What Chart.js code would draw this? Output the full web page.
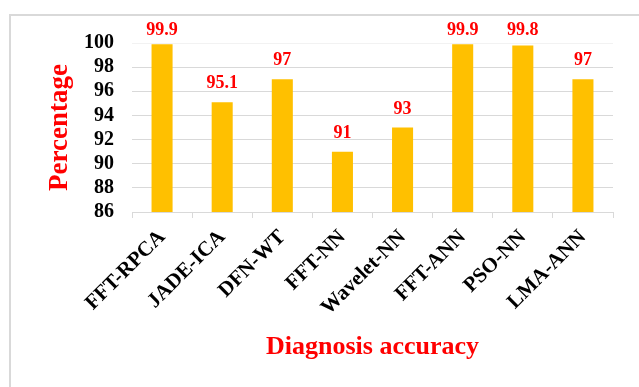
<!DOCTYPE html>
<html>
<head>
<meta charset="utf-8">
<script src="https://cdn.jsdelivr.net/npm/chart.js@4.4.0/dist/chart.umd.min.js"></script>
<style>
  html, body { margin: 0; padding: 0; background: #fff; }
  #wrap { position: relative; width: 639px; height: 387px; overflow: hidden; }
  #frame { position: absolute; left: 9px; top: 14px; width: 800px; height: 600px;
           border-left: 2px solid #d9d9d9; border-top: 2px solid #d9d9d9; }
  #chart { position: absolute; left: 0; top: 0; }
</style>
</head>
<body>
<div id="wrap">
  <div id="frame"></div>
  <canvas id="chart" width="639" height="387"></canvas>
</div>
<script>
// methods and their accuracy
let methods = ["FFT-RPCA", "JADE-ICA", "DFN-WT", "FFT-NN", "Wavelet-NN", "FFT-ANN", "PSO-NN", "LMA-ANN"];
let accuracy = [99.9, 95.1, 97, 91, 93, 99.9, 99.8, 97];
let yTicks = [86, 88, 90, 92, 94, 96, 98, 100];

let serif = "'Liberation Serif', 'Times New Roman', serif";

// red value labels above bars
let valueLabels = {
    id: 'valueLabels',
    afterDatasetsDraw: function (chart) {
        let ctx = chart.ctx;
        let meta = chart.getDatasetMeta(0);
        ctx.save();
        ctx.font = "bold 18px " + serif;
        ctx.fillStyle = "#ff0000";
        ctx.textAlign = "center";
        ctx.textBaseline = "alphabetic";
        meta.data.forEach(function (bar, i) {
            let y = Math.max(bar.y - 14, 35);
            ctx.fillText(String(accuracy[i]), bar.x, y);
        });
        ctx.restore();
    }
};

let ctx = document.getElementById("chart").getContext('2d');

let chartview = new Chart(ctx, {
    type: 'bar',
    data: {
        labels: methods,
        datasets: [{
            label: "Diagnosis accuracy",
            data: accuracy,
            backgroundColor: "#ffc000",
            barPercentage: 0.35,
            categoryPercentage: 1
        }]
    },
    options: {
        responsive: false,
        animation: false,
        layout: { padding: { left: 40, right: 26, top: 43, bottom: 24 } },
        plugins: {
            legend: { display: false },
            tooltip: { enabled: false }
        },
        scales: {
            x: {
                grid: {
                    drawOnChartArea: false,
                    color: "#d9d9d9",
                    tickLength: 6,
                    offset: true
                },
                border: { color: "#d9d9d9", width: 1 },
                ticks: {
                    color: "#000",
                    font: { family: serif, weight: "bold", size: 21 },
                    maxRotation: 45,
                    minRotation: 45,
                    autoSkip: false,
                    padding: 7
                },
                title: {
                    display: true,
                    text: "Diagnosis accuracy",
                    color: "#ff0000",
                    font: { family: serif, weight: "bold", size: 26 },
                    padding: { top: 10, bottom: 0 }
                },
                afterFit: function (scale) { scale.height = 387 - 212 - 24; }
            },
            y: {
                min: 86,
                max: 100,
                afterBuildTicks: function (scale) {
                    scale.ticks = yTicks.map(function (v) { return { value: v }; });
                },
                grid: {
                    color: function (c) { return c.tick && c.tick.value === 100 ? "#f2f2f2" : "#d9d9d9"; },
                    drawTicks: false
                },
                border: { display: false },
                ticks: {
                    color: "#000",
                    font: { family: serif, weight: "bold", size: 20 },
                    autoSkip: false,
                    padding: 18
                },
                title: {
                    display: true,
                    text: "Percentage",
                    color: "#ff0000",
                    font: { family: serif, weight: "bold", size: 27 },
                    padding: { top: 4, bottom: 0 }
                },
                afterFit: function (scale) { scale.width = 92; }
            }
        }
    },
    plugins: [valueLabels]
});
</script>
</body>
</html>
